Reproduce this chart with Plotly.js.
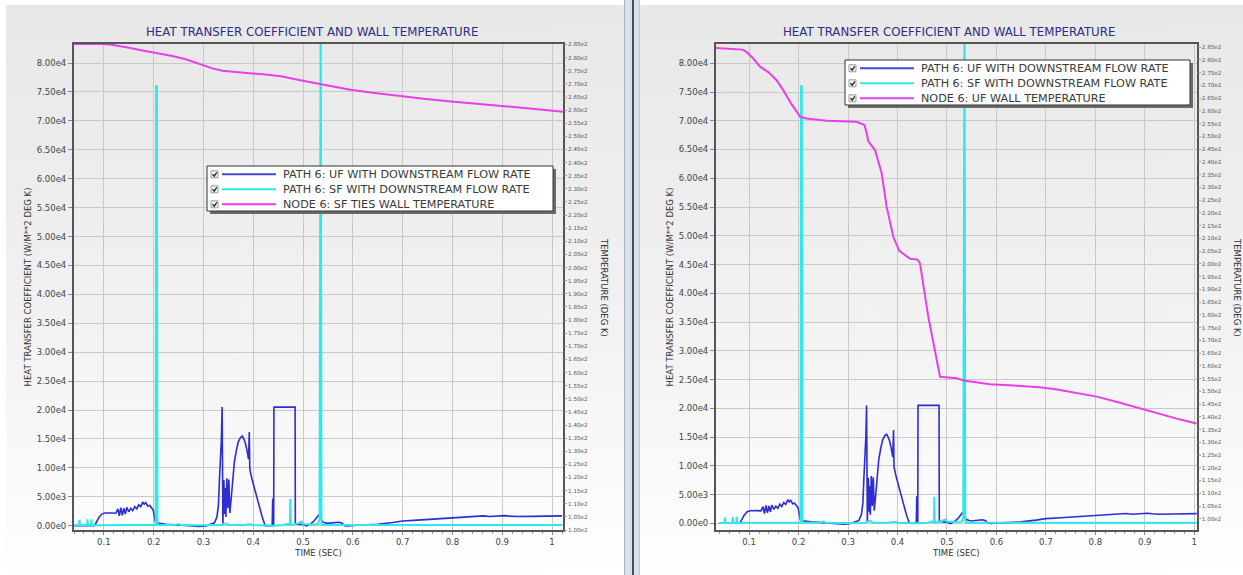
<!DOCTYPE html>
<html>
<head>
<meta charset="utf-8">
<script src="https://cdn.plot.ly/plotly-3.0.1.min.js"></script>
<style>html,body{margin:0;padding:0;background:#fff;}#chart{width:1243px;height:575px;}</style>
</head>
<body>
<div id="chart"></div>
<script>
// ---------------- DATA ----------------
const chartTitle = "HEAT TRANSFER COEFFICIENT AND WALL TEMPERATURE";
const xTitle = "TIME (SEC)";
const yLeftTitle = "HEAT TRANSFER COEFFICIENT (W/M**2 DEG K)";
const yRightTitle = "TEMPERATURE (DEG K)";
const seriesNames = ["PATH 6: UF WITH DOWNSTREAM FLOW RATE", "PATH 6: SF WITH DOWNSTREAM FLOW RATE"];
const tempNameLeft = "NODE 6: SF TIES WALL TEMPERATURE";
const tempNameRight = "NODE 6: UF WALL TEMPERATURE";

// Heat transfer coefficient, UF path (W/m^2 K)
const ufTime = [0.040,0.080,0.083,0.090,0.096,0.102,0.115,0.124,0.128,0.131,0.134,0.137,0.140,0.143,0.146,0.150,0.154,0.158,0.162,0.166,0.170,0.174,0.178,0.181,0.184,0.188,0.192,0.196,0.199,0.201,0.203,0.208,0.215,0.225,0.235,0.250,0.265,0.280,0.292,0.305,0.315,0.322,0.327,0.330,0.332,0.334,0.336,0.3375,0.339,0.341,0.3425,0.344,0.345,0.347,0.349,0.351,0.353,0.356,0.359,0.362,0.366,0.370,0.374,0.378,0.381,0.384,0.387,0.389,0.3905,0.392,0.393,0.397,0.402,0.410,0.418,0.424,0.432,0.438,0.439,0.4395,0.441,0.4415,0.484,0.4845,0.492,0.500,0.507,0.515,0.522,0.528,0.532,0.535,0.539,0.548,0.560,0.572,0.578,0.583,0.590,0.600,0.620,0.650,0.680,0.700,0.730,0.760,0.790,0.820,0.850,0.862,0.875,0.895,0.905,0.915,0.930,0.960,1.000,1.020];
const ufHtc = [0,0,300,1400,2000,2180,2200,2150,2900,1700,3100,1800,3000,2000,3150,2400,3000,2600,3300,2900,3600,3300,4100,3700,4000,3400,3500,3100,2700,1800,700,450,350,250,200,100,30,-50,-150,-50,200,500,1500,3500,7800,11000,15000,20500,300,7900,2000,6500,1500,8200,3000,8000,2200,5000,9000,11000,13000,14500,15200,15500,15000,14300,13200,12500,11500,16200,9800,8200,6500,4000,1500,0,-50,0,4700,0,0,20500,20500,300,300,200,-50,300,800,1400,1900,1200,650,400,500,600,450,0,-50,50,120,250,550,800,950,1100,1300,1450,1650,1700,1580,1700,1730,1650,1580,1600,1680,1700];

// Heat transfer coefficient, SF path (W/m^2 K)
const sfTime = [0.040,0.050,0.051,0.052,0.066,0.067,0.068,0.074,0.075,0.076,0.100,0.140,0.180,0.200,0.204,0.205,0.2065,0.2075,0.220,0.240,0.250,0.255,0.290,0.320,0.330,0.335,0.345,0.350,0.380,0.395,0.400,0.430,0.440,0.460,0.470,0.4735,0.4745,0.4755,0.480,0.490,0.497,0.500,0.520,0.530,0.533,0.534,0.5355,0.537,0.540,0.560,0.600,0.700,0.800,0.900,1.000,1.020];
const sfHtc = [50,50,1000,50,50,1100,50,50,1100,50,80,100,150,100,150,76000,76000,150,100,100,300,100,50,80,200,100,400,100,100,250,100,50,0,100,300,100,4600,100,200,400,700,300,200,300,1000,95000,95000,300,100,100,100,100,100,100,100,100];

// Wall temperature, left chart (K)
const tempLeftTime = [0.040,0.078,0.112,0.145,0.178,0.206,0.240,0.266,0.295,0.318,0.338,0.358,0.398,0.430,0.458,0.492,0.532,0.560,0.592,0.640,0.692,0.742,0.792,0.842,0.892,0.950,1.022];
const tempLeftK = [285.2,285.3,285.0,284.0,282.7,281.8,280.5,279.3,277.5,275.9,275.0,274.6,274.0,273.5,272.8,271.5,270.0,268.9,267.9,266.6,265.3,264.3,263.4,262.6,261.8,260.7,259.4];

// Wall temperature, right chart (K)
const tempRightTime = [0.033,0.060,0.087,0.095,0.108,0.122,0.140,0.155,0.169,0.186,0.203,0.216,0.240,0.257,0.317,0.3275,0.333,0.338,0.341,0.3545,0.368,0.378,0.3915,0.4036,0.4253,0.440,0.4455,0.4623,0.486,0.520,0.5366,0.587,0.601,0.640,0.688,0.720,0.760,0.803,0.850,0.904,0.931,0.970,1.005];
const tempRightK = [284.6,284.3,284.0,283.0,280.6,277.3,275.0,272.1,268.1,262.5,257.7,257.0,256.3,256.1,255.7,255.1,254.5,251.0,248.0,244.6,235.5,222.4,210.6,205.1,202.0,201.7,200.2,179.2,155.7,155.1,154.1,152.8,152.6,152.2,151.6,150.8,149.5,147.9,145.5,142.6,140.9,139.0,137.4];

// Tick labels
const xTickVals = [0.1,0.2,0.3,0.4,0.5,0.6,0.7,0.8,0.9,1.0];
const xTickText = ["0.1","0.2","0.3","0.4","0.5","0.6","0.7","0.8","0.9","1"];
const htcTickVals = [0,5000,10000,15000,20000,25000,30000,35000,40000,45000,50000,55000,60000,65000,70000,75000,80000];
const htcTickText = ["0.00e0","5.00e3","1.00e4","1.50e4","2.00e4","2.50e4","3.00e4","3.50e4","4.00e4","4.50e4","5.00e4","5.50e4","6.00e4","6.50e4","7.00e4","7.50e4","8.00e4"];
const tempTickVals = [100,105,110,115,120,125,130,135,140,145,150,155,160,165,170,175,180,185,190,195,200,205,210,215,220,225,230,235,240,245,250,255,260,265,270,275,280,285];
const tempTickText = ["1.00e2","1.05e2","1.10e2","1.15e2","1.20e2","1.25e2","1.30e2","1.35e2","1.40e2","1.45e2","1.50e2","1.55e2","1.60e2","1.65e2","1.70e2","1.75e2","1.80e2","1.85e2","1.90e2","1.95e2","2.00e2","2.05e2","2.10e2","2.15e2","2.20e2","2.25e2","2.30e2","2.35e2","2.40e2","2.45e2","2.50e2","2.55e2","2.60e2","2.65e2","2.70e2","2.75e2","2.80e2","2.85e2"];

// ---------------- STYLE ----------------
const W = 1243, H = 575;
const px = v => v / W, py = v => 1 - v / H;
const FONT = "DejaVu Sans, Verdana, sans-serif";
const C_UF = "#2d2dd2", C_SF = "#2ee8ee", C_T = "#e640e8";
const C_UF_LEG = "#4747d6";

function gradientImage() {
  const c = document.createElement("canvas");
  c.width = 4; c.height = 256;
  const g = c.getContext("2d");
  const gr = g.createLinearGradient(0, 0, 0, 256);
  gr.addColorStop(0, "#e8e8e8");
  gr.addColorStop(0.55, "#f2f2f2");
  gr.addColorStop(1, "#ffffff");
  g.fillStyle = gr; g.fillRect(0, 0, 4, 256);
  return c.toDataURL("image/png");
}
const bgSrc = gradientImage();

const xBase = {
  tickvals: xTickVals, ticktext: xTickText,
  tickfont: {family: FONT, size: 8.5, color: "#444"},
  showgrid: true, gridcolor: "#c9c9c9", gridwidth: 1,
  zeroline: false, showline: true, linecolor: "#555", linewidth: 2, mirror: true,
  ticks: "outside", ticklen: 3, tickcolor: "#888",
  minor: {dtick: 0.02, ticks: "outside", ticklen: 2, tickcolor: "#999", showgrid: false},
  title: {text: xTitle, font: {family: FONT, size: 8.5, color: "#333"}, standoff: 4}
};
const yBase = {
  tickvals: htcTickVals, ticktext: htcTickText,
  tickfont: {family: FONT, size: 8.5, color: "#444"},
  showgrid: true, gridcolor: "#c9c9c9", gridwidth: 1,
  zeroline: false, showline: true, linecolor: "#555", linewidth: 2, mirror: true,
  ticks: "outside", ticklen: 4, tickcolor: "#888",
  title: {text: yLeftTitle, font: {family: FONT, size: 8.5, color: "#333"}, standoff: 4}
};
const y2Base = {
  tickvals: tempTickVals, ticktext: tempTickText,
  tickfont: {family: FONT, size: 5.6, color: "#555"},
  showgrid: false, zeroline: false, showline: false,
  ticks: "outside", ticklen: 3, tickcolor: "#999",
  side: "right"
};

const dom1 = [px(74), px(563)], dom2 = [px(716), px(1196.7)], ydom = [py(530), py(44)];

const traces = [
  {x: ufTime, y: ufHtc, name: seriesNames[0], type: "scatter", mode: "lines", line: {color: C_UF, width: 1.6}, xaxis: "x", yaxis: "y"},
  {x: sfTime, y: sfHtc, name: seriesNames[1], type: "scatter", mode: "lines", line: {color: C_SF, width: 2}, xaxis: "x", yaxis: "y"},
  {x: tempLeftTime, y: tempLeftK, name: tempNameLeft, type: "scatter", mode: "lines", line: {color: C_T, width: 2}, xaxis: "x", yaxis: "y2"},
  {x: ufTime, y: ufHtc, name: seriesNames[0], type: "scatter", mode: "lines", line: {color: C_UF, width: 1.6}, xaxis: "x2", yaxis: "y3"},
  {x: sfTime, y: sfHtc, name: seriesNames[1], type: "scatter", mode: "lines", line: {color: C_SF, width: 2}, xaxis: "x2", yaxis: "y3"},
  {x: tempRightTime, y: tempRightK, name: tempNameRight, type: "scatter", mode: "lines", line: {color: C_T, width: 2}, xaxis: "x2", yaxis: "y4"}
];

// ---------------- LEGEND BOXES (checkbox + line sample + label) ----------------
const shapes = [
  {type: "rect", xref: "paper", yref: "paper", x0: px(624), x1: px(640), y0: 0, y1: 1, fillcolor: "#d7e1ed", line: {width: 0}, layer: "below"},
  {type: "line", xref: "paper", yref: "paper", x0: px(624.5), x1: px(624.5), y0: 0, y1: 1, line: {color: "#a9b4c2", width: 1}, layer: "below"},
  {type: "line", xref: "paper", yref: "paper", x0: px(633), x1: px(633), y0: 0, y1: 1, line: {color: "#4a4f57", width: 2}, layer: "below"},
  {type: "line", xref: "paper", yref: "paper", x0: px(639.5), x1: px(639.5), y0: 0, y1: 1, line: {color: "#b9c6d6", width: 1}, layer: "below"}
];
const annotations = [
  {text: chartTitle, xref: "paper", yref: "paper", x: px(312), y: py(32), xanchor: "center", yanchor: "middle", showarrow: false, font: {family: FONT, size: 11.8, color: "#2e2e86"}},
  {text: chartTitle, xref: "paper", yref: "paper", x: px(949), y: py(32), xanchor: "center", yanchor: "middle", showarrow: false, font: {family: FONT, size: 11.8, color: "#2e2e86"}},
  {text: yRightTitle, xref: "paper", yref: "paper", x: px(604), y: py(287), xanchor: "center", yanchor: "middle", textangle: 90, showarrow: false, font: {family: FONT, size: 8.5, color: "#333"}},
  {text: yRightTitle, xref: "paper", yref: "paper", x: px(1237), y: py(287), xanchor: "center", yanchor: "middle", textangle: 90, showarrow: false, font: {family: FONT, size: 8.5, color: "#333"}}
];

function addLegend(L, T, Wd, Hd, entries) {
  shapes.push({type: "rect", xref: "paper", yref: "paper", x0: px(L + 3), x1: px(L + Wd + 3), y0: py(T + Hd + 3), y1: py(T + 3), fillcolor: "#6a6a6a", line: {width: 0}, layer: "above"});
  shapes.push({type: "rect", xref: "paper", yref: "paper", x0: px(L), x1: px(L + Wd), y0: py(T + Hd), y1: py(T), fillcolor: "#ffffff", line: {color: "#333", width: 1}, layer: "above"});
  entries.forEach((e, i) => {
    const r = T + 8.3 + 15 * i;
    shapes.push({type: "rect", xref: "paper", yref: "paper", x0: px(L + 4), x1: px(L + 11), y0: py(r + 3.5), y1: py(r - 3.5), fillcolor: "#f4f4f4", line: {color: "#9a9a9a", width: 1}, layer: "above"});
    shapes.push({type: "path", xref: "paper", yref: "paper", path: `M ${px(L + 5.5)} ${py(r)} L ${px(L + 7.2)} ${py(r + 1.8)} L ${px(L + 9.8)} ${py(r - 2)}`, line: {color: "#222", width: 1.3}, layer: "above"});
    shapes.push({type: "line", xref: "paper", yref: "paper", x0: px(L + 15), x1: px(L + 69), y0: py(r), y1: py(r), line: {color: e.color, width: 2}, layer: "above"});
    annotations.push({text: e.name, xref: "paper", yref: "paper", x: px(L + 74), y: py(r), xanchor: "left", yanchor: "middle", showarrow: false, font: {family: FONT, size: 11.2, color: "#3a3a3a"}});
  });
}
addLegend(207, 166, 346, 45, [{name: seriesNames[0], color: C_UF_LEG}, {name: seriesNames[1], color: C_SF}, {name: tempNameLeft, color: C_T}]);
addLegend(845, 60, 345, 45, [{name: seriesNames[0], color: C_UF_LEG}, {name: seriesNames[1], color: C_SF}, {name: tempNameRight, color: C_T}]);

const layout = {
  width: W, height: H,
  margin: {l: 0, r: 0, t: 0, b: 0, pad: 0},
  paper_bgcolor: "#ffffff", plot_bgcolor: "rgba(0,0,0,0)",
  showlegend: false,
  xaxis: Object.assign({}, xBase, {domain: dom1, range: [0.04, 1.022], anchor: "y"}),
  yaxis: Object.assign({}, yBase, {domain: ydom, range: [-750, 83300], anchor: "x"}),
  yaxis2: Object.assign({}, y2Base, {overlaying: "y", anchor: "x", range: [100, 285.2]}),
  xaxis2: Object.assign({}, xBase, {domain: dom2, range: [0.033, 1.005], anchor: "y3"}),
  yaxis3: Object.assign({}, yBase, {domain: ydom, range: [-1170, 83350], anchor: "x2"}),
  yaxis4: Object.assign({}, y2Base, {overlaying: "y3", anchor: "x2", range: [95.6, 286.2]}),
  images: [
    {source: bgSrc, xref: "paper", yref: "paper", x: px(6), y: py(5), sizex: px(618), sizey: 570 / H, sizing: "stretch", xanchor: "left", yanchor: "top", layer: "below"},
    {source: bgSrc, xref: "paper", yref: "paper", x: px(640), y: py(5), sizex: px(603), sizey: 570 / H, sizing: "stretch", xanchor: "left", yanchor: "top", layer: "below"}
  ],
  shapes: shapes,
  annotations: annotations
};

Plotly.newPlot("chart", traces, layout, {displayModeBar: false, staticPlot: true});
</script>
</body>
</html>
